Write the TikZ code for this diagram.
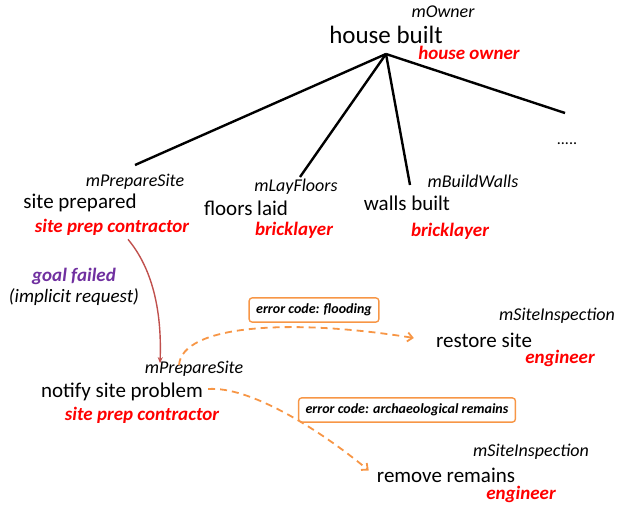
\documentclass[tikz,border=0pt]{standalone}
\usepackage{fontspec}
\setmainfont{Carlito}
\usetikzlibrary{arrows.meta}
\definecolor{roleRed}{RGB}{255,0,0}
\definecolor{errOrange}{RGB}{247,150,70}
\definecolor{failPurple}{RGB}{112,48,160}
\definecolor{reqBrown}{RGB}{192,80,77}
\tikzset{
  goaltext/.style={inner sep=0pt, font=\fontsize{21}{24}\selectfont},
  bigtext/.style={inner sep=0pt, font=\fontsize{25}{28}\selectfont},
  methodtext/.style={inner sep=0pt, font=\fontsize{18}{21}\selectfont\itshape},
  roletext/.style={inner sep=0pt, text=roleRed, font=\fontsize{19}{22}\selectfont\bfseries\itshape},
  errbox/.style={draw=errOrange, line width=1.4pt, rounded corners=3pt, inner xsep=7pt, inner ysep=6pt, font=\fontsize{14}{16}\selectfont\bfseries\itshape},
  treeline/.style={line width=2.4pt, black},
  errflow/.style={draw=errOrange, line width=1.8pt, dash pattern=on 7pt off 5pt, -{Straight Barb[length=5pt,width=9pt]}},
  reqflow/.style={draw=reqBrown, line width=1.4pt, -{Stealth[length=6pt,width=5pt]}}
}
\begin{document}
\begin{tikzpicture}[x=1pt,y=-1pt]
\useasboundingbox (0,0) rectangle (624,504);
% top goal
\node[methodtext] (mowner) at (443,12) {mOwner};
\node[bigtext] (house) at (386,35) {house built};
\node[roletext] (howner) at (469,53) {house owner};
\coordinate (apex) at (386,54);
% subgoals
\node[methodtext] (mps1) at (135,182) {mPrepareSite};
\node[goaltext] (sitep) at (80,203) {site prepared};
\node[roletext] (spc1) at (112,227) {site prep contractor};
\node[methodtext] (mlf) at (296,187) {mLayFloors};
\node[goaltext] (floors) at (246,208) {floors laid};
\node[roletext] (brick1) at (294,230) {bricklayer};
\node[methodtext] (mbw) at (473,181) {mBuildWalls};
\node[goaltext] (walls) at (407,203) {walls built};
\node[roletext] (brick2) at (450,231) {bricklayer};
\node[inner sep=0pt, font=\fontsize{16}{18}\selectfont] (dots) at (567,144) {.....};
\coordinate (leftend) at (135,165);
\coordinate (midend) at (300,177);
\coordinate (wallend) at (410,185);
\coordinate (rightend) at (565,113);
\draw[treeline] (apex) -- (leftend);
\draw[treeline] (apex) -- (midend);
\draw[treeline] (apex) -- (wallend);
\draw[treeline] (apex) -- (rightend);
% failure
\node[inner sep=0pt, text=failPurple, font=\fontsize{19}{22}\selectfont\bfseries\itshape] (gfail) at (74,276) {goal failed};
\node[inner sep=0pt, font=\fontsize{19}{22}\selectfont\itshape] (impl) at (74,297) {(implicit request)};
\node[methodtext] (mps2) at (194,369) {mPrepareSite};
\node[goaltext] (notify) at (122,392) {notify site problem};
\node[roletext] (spc2) at (142,415) {site prep contractor};
\draw[reqflow] ([xshift=16pt,yshift=-4pt]spc1.south) .. controls (152,268) and (162,310) .. ([xshift=-34pt,yshift=-2pt]mps2.north);
% error flows
\node[errbox] (err1) at (314,310) {error code: flooding};
\node[methodtext] (msi1) at (557,316) {mSiteInspection};
\node[goaltext] (restore) at (484,340) {restore site};
\node[roletext] (eng1) at (560,358) {engineer};
\node[errbox] (err2) at (407,410) {error code: archaeological remains};
\node[methodtext] (msi2) at (531,452) {mSiteInspection};
\node[goaltext] (remove) at (446,475) {remove remains};
\node[roletext] (eng2) at (521,494) {engineer};
\draw[errflow] ([xshift=-15pt,yshift=-4pt]mps2.north) .. controls (182,325) and (290,318) .. ([xshift=-22pt,yshift=2pt]restore.west);
\draw[errflow] ([xshift=5pt,yshift=3pt]notify.east) .. controls (250,386) and (320,430) .. ([xshift=-8pt,yshift=-3pt]remove.north west);
\end{tikzpicture}
\end{document}
